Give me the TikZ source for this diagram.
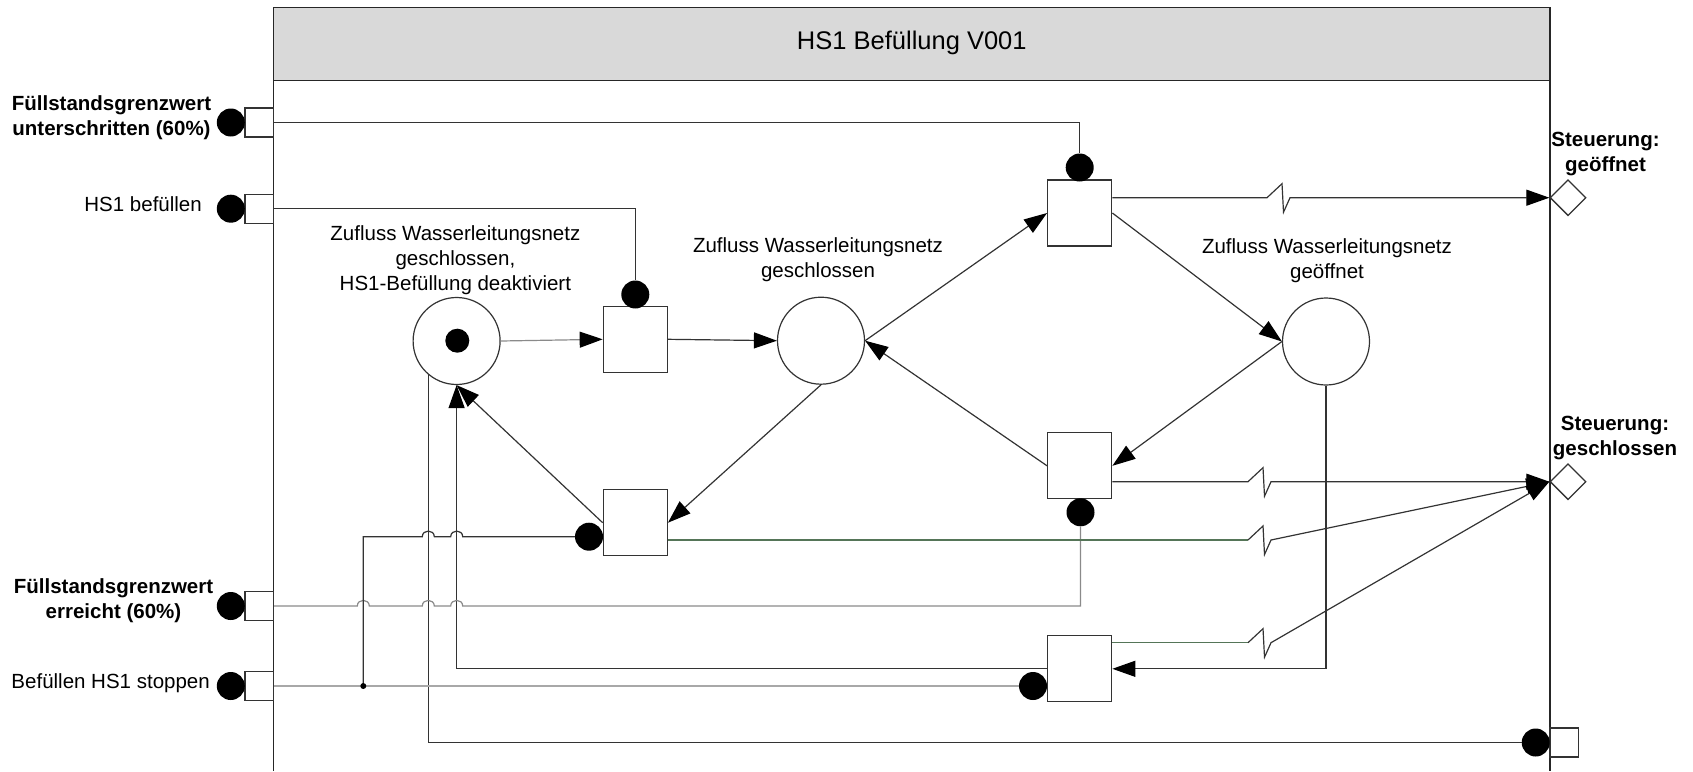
\documentclass[tikz,border=0pt]{standalone}
\usepackage{fontspec}
\setmainfont{Liberation Sans}
\usetikzlibrary{shapes.geometric,arrows.meta,calc}

\definecolor{linegray}{HTML}{333333}
\definecolor{framegray}{HTML}{262626}
\definecolor{lightline}{HTML}{A8A8A8}
\definecolor{midline}{HTML}{8A8A8A}
\definecolor{greenline}{HTML}{557558}
\definecolor{headfill}{HTML}{D9D9D9}

\tikzset{
  lbl/.style={font=\fontsize{20.5}{25}\selectfont, align=center, inner sep=0pt},
  boldlbl/.style={lbl, font=\fontsize{20.5}{25}\selectfont\bfseries},
  place/.style={circle, draw=linegray, line width=1.2pt, minimum size=87pt, inner sep=0pt, fill=white},
  trans/.style={rectangle, draw=linegray, line width=1.3pt, minimum width=64pt, minimum height=66pt, inner sep=0pt, fill=white},
  port/.style={rectangle, draw=linegray, line width=1.3pt, minimum width=28.5pt, minimum height=29pt, inner sep=0pt, fill=white},
  blob/.style={circle, fill=black, minimum size=28pt, inner sep=0pt},
  token/.style={circle, fill=black, minimum size=24pt, inner sep=0pt},
  outport/.style={diamond, draw=linegray, line width=1.3pt, minimum width=36pt, minimum height=36pt, inner sep=0pt, fill=white},
  edgeline/.style={draw=linegray, line width=1.2pt},
  arrowed/.style={-{Triangle[length=23pt,width=16pt,color=black]}},
}

\begin{document}
\begin{tikzpicture}[x=1pt,y=-1pt]
\useasboundingbox (0,0) rectangle (1693,771);

% module frame with grey title bar
\draw[framegray, line width=1.5pt, fill=headfill] (273.6,7.3) rectangle (1550,80.7);
\draw[framegray, line width=1.5pt] (273.6,80.7) -- (273.6,771);
\draw[framegray, line width=1.5pt] (1550,80.7) -- (1550,771);
\node[lbl, font=\fontsize{25.5}{30}\selectfont] (title) at (911.8,43.3) {HS1 Befüllung V001};

% input ports on the left border
\node[port] (in1) at (259.3,122.5) {};
\node[port] (in2) at (259.3,208.7) {};
\node[port] (in3) at (259.3,606) {};
\node[port] (in4) at (259.3,686) {};
\node[blob] (din1) at (230.8,122.5) {};
\node[blob] (din2) at (230.8,208.7) {};
\node[blob] (din3) at (230.8,606) {};
\node[blob] (din4) at (230.8,686) {};

\node[boldlbl] (lin1) at (111.5,117.5) {Füllstandsgrenzwert\\unterschritten (60\%)};
\node[lbl, anchor=east] (lin2) at (202,204) {HS1 befüllen};
\node[boldlbl] (lin3) at (113.5,600.8) {Füllstandsgrenzwert\\erreicht (60\%)};
\node[lbl, anchor=east] (lin4) at (210,682.7) {Befüllen HS1 stoppen};

% output port at the bottom of the right border
\node[port] (out3) at (1564.2,742.5) {};
\node[blob] (dout3) at (1535.7,742.5) {};

% control outputs
\node[outport] (o1) at (1568,197.7) {};
\node[outport] (o2) at (1568,481.7) {};
\node[boldlbl] (lo1) at (1605.5,153.7) {Steuerung:\\geöffnet};
\node[boldlbl] (lo2) at (1615,438.5) {Steuerung:\\geschlossen};

% places
\node[place] (P1) at (456.6,341) {};
\node[token] (tok) at (457.3,340.7) {};
\node[place] (P2) at (821,340.7) {};
\node[place] (P3) at (1326,341.5) {};

\node[lbl] (lp1) at (455.4,259.7) {Zufluss Wasserleitungsnetz\\geschlossen,\\HS1-Befüllung deaktiviert};
\node[lbl] (lp2) at (818,259.2) {Zufluss Wasserleitungsnetz\\geschlossen};
\node[lbl] (lp3) at (1327,260.8) {Zufluss Wasserleitungsnetz\\geöffnet};

% transitions
\node[trans] (T1) at (635.3,339.3) {};
\node[trans] (T2) at (635.3,522.7) {};
\node[trans] (T3) at (1079.7,213) {};
\node[trans] (T4) at (1079.7,668.8) {};
\node[trans] (T5) at (1079.7,465.8) {};

% condition dots on the transitions
\node[blob] (r1) at (635.3,294.5) {};
\node[blob] (r2) at (589,536.7) {};
\node[blob] (r3) at (1079.7,167.5) {};
\node[blob] (r4) at (1033,686) {};
\node[blob] (r5) at (1080.5,512.3) {};

% auxiliary points for breaks and the branch
\coordinate (z3) at (1267,197.7);
\coordinate (z5) at (1248,481.7);
\coordinate (z2) at (1248,540);
\coordinate (z4) at (1248,642.7);
\coordinate (j) at (363.3,686);

% net arcs
\draw[edgeline, draw=midline, arrowed] (P1.east) -- (T1.west);
\draw[edgeline, arrowed] (T1.east) -- (P2.west);
\draw[edgeline, arrowed] (P2.east) -- (T3.west);
\draw[edgeline, arrowed] (T3.east) -- (P3.west);
\draw[edgeline, arrowed] (P3.west) -- (T5.east);
\draw[edgeline, arrowed] (T5.west) -- (P2.east);
\draw[edgeline, arrowed] (P2.south) -- (T2.east);
\draw[edgeline, arrowed] (T2.west) -- (P1.south);
\draw[edgeline, arrowed] (T4.west) -| (P1.south);
\draw[edgeline, arrowed] (P3.south) |- (T4.east);
\draw[edgeline] (P1.230) |- (dout3);

% signal inputs
\draw[edgeline] (in1.east) -| (r3);
\draw[edgeline] (in2.east) -| (r1);
\draw[edgeline, draw=midline] (in3.east)
  -- (357.3,606) .. controls (357.3,598.5) and (369.3,598.5) .. (369.3,606)
  -- (422.3,606) .. controls (422.3,598.5) and (434.3,598.5) .. (434.3,606)
  -- (450.7,606) .. controls (450.7,598.5) and (462.7,598.5) .. (462.7,606)
  -| (r5);
\draw[edgeline, draw=lightline] (in4.east) -- (r4);
\draw[edgeline] (j) -- (j |- r2)
  -- (422.3,536.7) .. controls (422.3,529.2) and (434.3,529.2) .. (434.3,536.7)
  -- (450.7,536.7) .. controls (450.7,529.2) and (462.7,529.2) .. (462.7,536.7)
  -- (r2);
\fill[black] (j) circle[radius=3pt];

% control outputs with break marks
\draw[edgeline, arrowed] (T3.east |- o1) -- (z3) -- ++(15,-14) -- ++(1.5,28.5) -- ++(6.5,-14.5) -- (o1.west);
\draw[edgeline, arrowed] (T5.east |- o2) -- (z5) -- ++(15,-14) -- ++(1.5,28.5) -- ++(6.5,-14.5) -- (o2.west);
\draw[draw=greenline, line width=1.2pt] (T2.east |- z2) -- (z2);
\draw[edgeline, arrowed] (z2) -- ++(15,-14) -- ++(1.5,28.5) -- ++(6.5,-14.5) -- (o2.west);
\draw[draw=greenline, line width=1.2pt] (T4.east |- z4) -- (z4);
\draw[edgeline, arrowed] (z4) -- ++(15,-14) -- ++(1.5,28.5) -- ++(6.5,-14.5) -- (o2.west);
\end{tikzpicture}
\end{document}
